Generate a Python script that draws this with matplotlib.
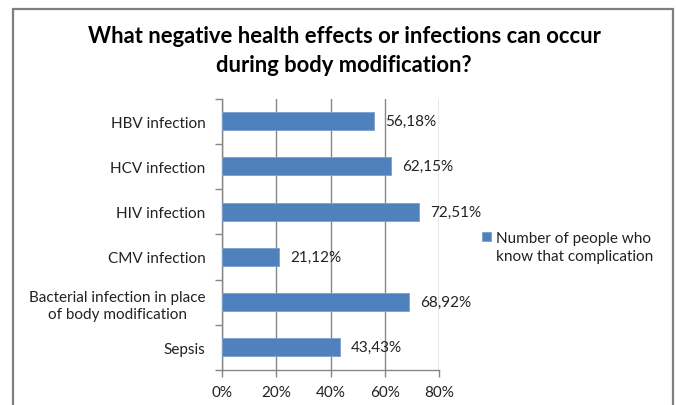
import matplotlib
matplotlib.use("Agg")
import matplotlib.pyplot as plt
from matplotlib.patches import Rectangle
import numpy as np

categories = ["HBV infection", "HCV infection", "HIV infection", "CMV infection",
              "Bacterial infection in place\nof body modification", "Sepsis"]
values = [56.18, 62.15, 72.51, 21.12, 68.92, 43.43]
value_labels = ["56,18%", "62,15%", "72,51%", "21,12%", "68,92%", "43,43%"]
xticks = [0, 20, 40, 60, 80]
xtick_labels = ["0%", "20%", "40%", "60%", "80%"]
legend_label = "Number of people who\nknow that complication"
title = "What negative health effects or infections can occur\nduring body modification?"

plt.rcParams['font.family'] = ['Lato', 'DejaVu Sans']

fig = plt.figure(figsize=(6.76, 4.06), dpi=100)
W, H = 676, 406
ax = fig.add_axes([222 / W, 1 - 371 / H, (439 - 222) / W, (371 - 99.5) / H])

n = len(categories)
ypos = np.arange(n)
bar_color = "#4F81BD"
ax.barh(ypos, values, height=0.4, color=bar_color, edgecolor="#7BA0CD", linewidth=0.6, zorder=3)
ax.set_ylim(n - 0.5, -0.5)
ax.set_xlim(0, 80)
ax.set_xticks(xticks)
ax.set_xticklabels(xtick_labels, fontsize=11, color="#222222")
ax.set_yticks(ypos)
ax.set_yticklabels(categories, fontsize=11, color="#222222")
for t in ax.get_yticklabels():
    t.set_multialignment("center")
    t.set_linespacing(1.3)
ax.tick_params(axis="y", length=0, pad=12)
ax.tick_params(axis="x", length=5, color="#868686", width=1, pad=6, direction="out")
# tick marks between categories
ax.set_yticks(np.arange(-0.5, n, 1), minor=True)
ax.tick_params(axis="y", which="minor", length=5, color="#868686", width=1)

ax.grid(axis="x", color="#868686", linewidth=1, zorder=0)
for s in ["top", "right"]:
    ax.spines[s].set_visible(False)
for s in ["left", "bottom"]:
    ax.spines[s].set_color("#868686")
    ax.spines[s].set_linewidth(1)

for y, v, lab in zip(ypos, values, value_labels):
    ax.annotate(lab, xy=(v, y), xytext=(8, 0), textcoords="offset points",
                va="center", ha="left", fontsize=11, color="#222222", zorder=4)

fig.text(344 / W, 1 - 51 / H, title, ha="center", va="center", fontsize=15.8,
         fontweight="bold", linespacing=1.42, color="#000000")

# legend
fig.patches.append(Rectangle((482 / W, 1 - 242 / H), 9 / W, 9 / H,
                             transform=fig.transFigure, facecolor=bar_color,
                             edgecolor="#7BA0CD", linewidth=0.6))
fig.text(496 / W, 1 - 248 / H, legend_label, ha="left", va="center", fontsize=11,
         color="#222222", linespacing=1.45)

# outer border
fig.patches.append(Rectangle((13 / W, -0.05), (673 - 13) / W, 1 - 10 / H + 0.05,
                             transform=fig.transFigure, facecolor="none",
                             edgecolor="#7F7F7F", linewidth=1.6))

fig.savefig("out.png", dpi=100)
